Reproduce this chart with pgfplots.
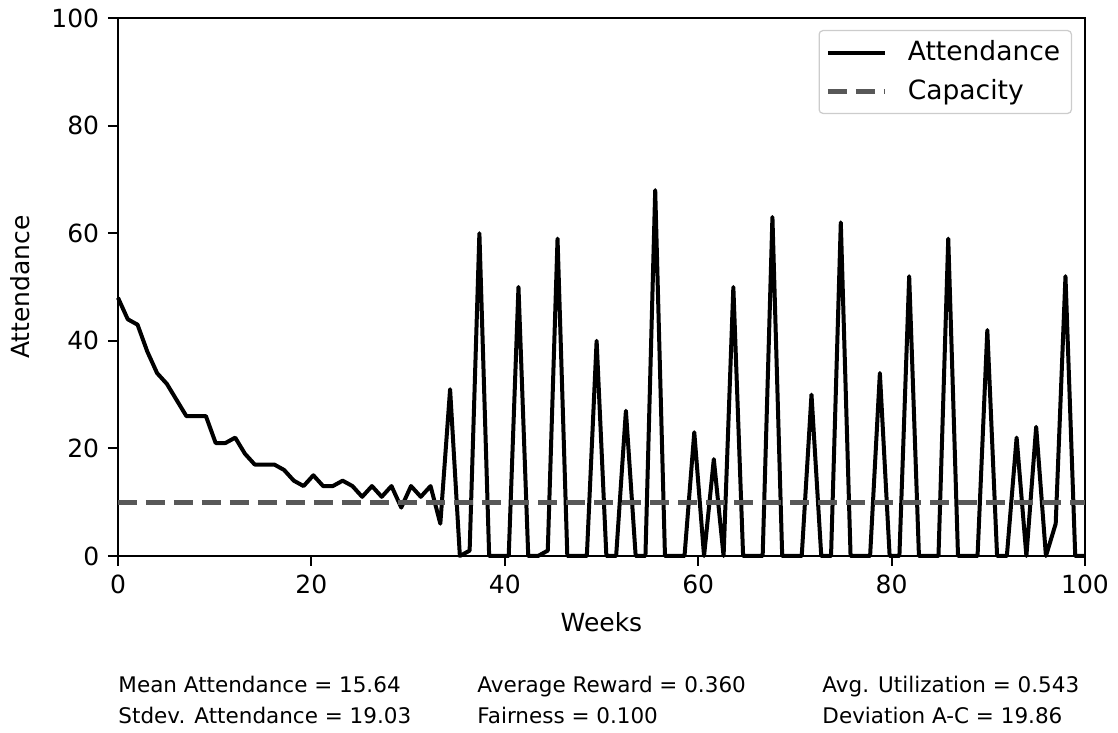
\documentclass[border=0pt]{standalone}
\usepackage{pgfplots}
\usepackage{pgfplotstable}
\pgfplotsset{compat=1.18}
\usepackage{fontspec}
\setmainfont{DejaVu Sans}
\definecolor{capgray}{HTML}{585858}
\definecolor{legframe}{HTML}{CCCCCC}

% attendance per week (100 samples over 0..100)
\pgfplotstableread{
i y
0 48
1 44
2 43
3 38
4 34
5 32
6 29
7 26
8 26
9 26
10 21
11 21
12 22
13 19
14 17
15 17
16 17
17 16
18 14
19 13
20 15
21 13
22 13
23 14
24 13
25 11
26 13
27 11
28 13
29 9
30 13
31 11
32 13
33 6
34 31
35 0
36 1
37 60
38 0
39 0
40 0
41 50
42 0
43 0
44 1
45 59
46 0
47 0
48 0
49 40
50 0
51 0
52 27
53 0
54 0
55 68
56 0
57 0
58 0
59 23
60 0
61 18
62 0
63 50
64 0
65 0
66 0
67 63
68 0
69 0
70 0
71 30
72 0
73 0
74 62
75 0
76 0
77 0
78 34
79 0
80 0
81 52
82 0
83 0
84 0
85 59
86 0
87 0
88 0
89 42
90 0
91 0
92 22
93 0
94 24
95 0
96 6
97 52
98 0
99 0
}\attendance

\begin{document}
\begin{tikzpicture}
\begin{axis}[
    scale only axis,
    width=386.8pt, height=215.2pt,
    xmin=0, xmax=100, ymin=0, ymax=100,
    xtick={0,20,...,100}, ytick={0,20,...,100},
    tick align=outside, tick pos=left,
    major tick length=4pt,
    axis line style={line width=0.8pt},
    every tick/.style={black, line width=0.8pt},
    /pgf/number format/assume math mode=true,
    tick label style={font=\fontsize{10}{12}\selectfont},
    label style={font=\fontsize{10}{12}\selectfont},
    xlabel={Weeks}, ylabel={Attendance},
    xlabel style={at={(axis description cs:0.5,-0.1227)}, anchor=center},
    ylabel style={at={(axis description cs:-0.1013,0.5)}, anchor=center},
    clip=false,
    legend cell align=left,
    legend style={at={(axis description cs:0.9866,0.9777)}, anchor=north east,
        draw=legframe, rounded corners=1.5pt, line width=0.5pt,
        font=\fontsize{10.6}{12.5}\selectfont,
        inner xsep=2.5pt, inner ysep=2pt,
        row sep=2pt,
        /tikz/every odd column/.append style={column sep=6pt}},
    legend image code/.code={\draw[#1] (0pt,0pt) -- (23pt,0pt);},
]
\addplot[black, line width=1.6pt, line join=round] table[x expr=\thisrow{i}*100/99, y=y] {\attendance};
\addlegendentry{Attendance}
\addplot[capgray, line width=2pt, dash pattern=on 7.6pt off 3.6pt] coordinates {(0,10) (100,10)};
\addlegendentry{Capacity}

\path (rel axis cs:-0.12203,-0.32900) rectangle (rel axis cs:1.03413,1.03346);

\begin{scope}[every node/.style={font=\fontsize{8.6}{10}\selectfont, inner sep=0pt}]
\node[anchor=base west] at (rel axis cs:0,-0.2528) {Mean Attendance = 15.64};
\node[anchor=base west] at (rel axis cs:0,-0.3120) {Stdev. Attendance = 19.03};
\node[anchor=base west] at (rel axis cs:0.3712,-0.2528) {Average Reward = 0.360};
\node[anchor=base west] at (rel axis cs:0.3712,-0.3120) {Fairness = 0.100};
\node[anchor=base west] at (rel axis cs:0.728,-0.2528) {Avg. Utilization = 0.543};
\node[anchor=base west] at (rel axis cs:0.728,-0.3120) {Deviation A-C = 19.86};
\end{scope}
\end{axis}
\end{tikzpicture}
\end{document}
